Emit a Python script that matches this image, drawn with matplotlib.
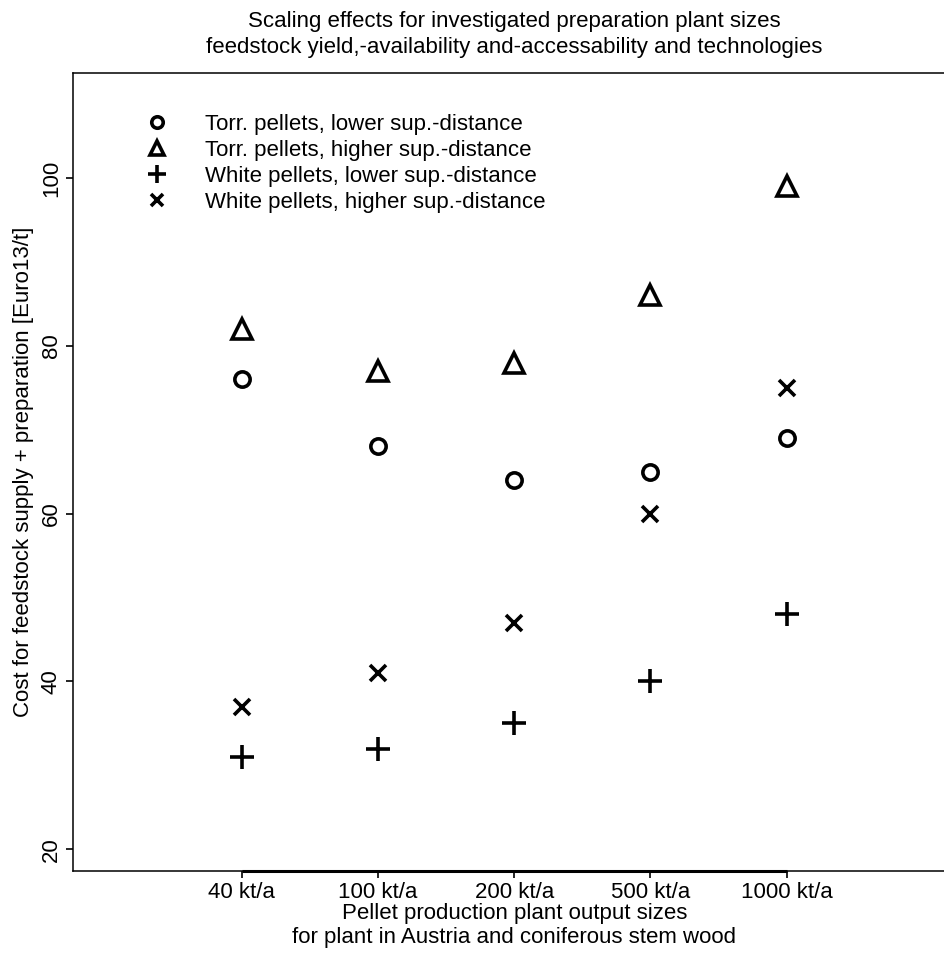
import matplotlib
matplotlib.use('Agg')
import matplotlib.pyplot as plt

plt.rcParams['font.family'] = ['Liberation Sans', 'DejaVu Sans']

sizes = ['40 kt/a', '100 kt/a', '200 kt/a', '500 kt/a', '1000 kt/a']
torr_low = [76, 68, 64, 65, 69]
torr_high = [82, 77, 78, 86, 99]
white_low = [31, 32, 35, 40, 48]
white_high = [37, 41, 47, 60, 75]
yticks = [20, 40, 60, 80, 100]

fs = 16

fig = plt.figure(figsize=(9.45, 9.56), dpi=100)
ax = fig.add_axes([0.0772, 0.0889, 0.934, 0.8347])

x = list(range(1, len(sizes) + 1))
ax.plot(x, torr_low, 'o', ms=11, mfc='none', mec='black', mew=2.6, label='Torr. pellets, lower sup.-distance')
ax.plot(x, torr_high, '^', ms=14, mfc='none', mec='black', mew=2.6, label='Torr. pellets, higher sup.-distance')
ax.plot(x, white_low, '+', ms=17, mec='black', mew=2.6, label='White pellets, lower sup.-distance')
ax.plot(x, white_high, 'x', ms=11, mec='black', mew=2.6, label='White pellets, higher sup.-distance')

ax.set_xlim(-0.24, 6.24)
ax.set_ylim(17.4, 112.5)
ax.set_xticks(x)
ax.set_xticklabels(sizes, fontsize=fs)
ax.set_yticks(yticks)
ax.set_yticklabels([str(v) for v in yticks], fontsize=fs, rotation=90, va='center')
ax.tick_params(axis='both', direction='out', length=5, width=1.2, colors='black')
ax.tick_params(axis='x', pad=3)
ax.tick_params(axis='y', pad=3)
ax.hlines(17.4, 1, 5, colors='black', lw=2.2, clip_on=False)
for s in ax.spines.values():
    s.set_linewidth(1.1)

ax.set_xlabel('Pellet production plant output sizes\nfor plant in Austria and coniferous stem wood',
              fontsize=fs, labelpad=0, linespacing=1.15)
ax.set_ylabel('Cost for feedstock supply + preparation [Euro13/t]', fontsize=fs, labelpad=5)

# title centred over the plot box (which runs past the right edge)
cx = 0.0772 + 0.934 / 2
fig.text(cx, 1 - 22 / 956, 'Scaling effects for investigated preparation plant sizes',
         ha='center', va='center', fontsize=fs)
fig.text(cx, 1 - 47 / 956, 'feedstock yield,-availability and-accessability and technologies',
         ha='center', va='center', fontsize=fs)

ax.legend(loc='upper left', bbox_to_anchor=(0.072, 0.96), frameon=False, fontsize=fs,
          handletextpad=1.7, labelspacing=0.22, handlelength=1.0, borderaxespad=0, markerscale=0.75)

fig.savefig('out.png', dpi=100)
